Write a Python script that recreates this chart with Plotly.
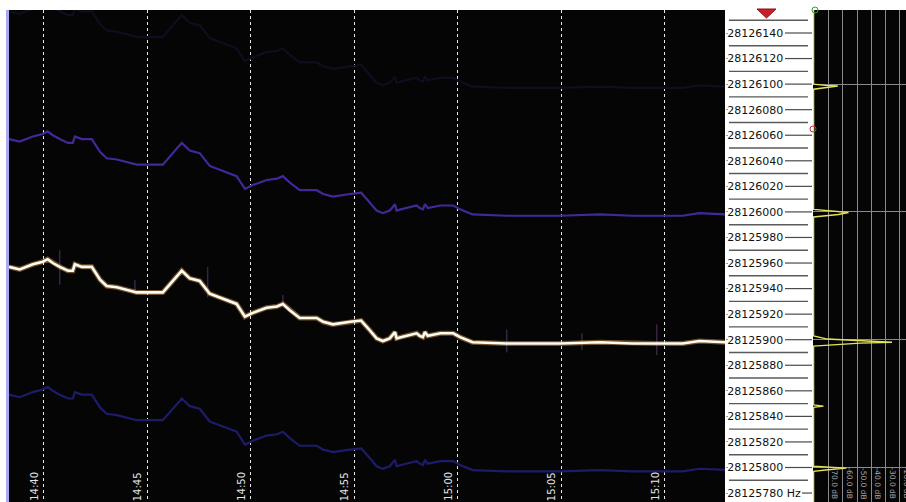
import plotly.graph_objects as go

W, H = 906, 502

# ---------------------------------------------------------------- data
# Carrier track of the received signal (time of day, frequency in Hz)
CARRIER_TIME = [
    "14:38:19", "14:38:50", "14:39:28", "14:39:57", "14:40:11", "14:40:26",
    "14:40:46", "14:41:10", "14:41:24", "14:41:30", "14:41:50", "14:42:19",
    "14:42:43", "14:43:02", "14:43:32", "14:44:01", "14:44:29", "14:45:00",
    "14:45:45", "14:46:40", "14:47:03", "14:47:32", "14:48:01", "14:48:30",
    "14:49:08", "14:49:19", "14:49:43", "14:50:06", "14:50:46", "14:51:16",
    "14:51:33", "14:51:53", "14:52:22", "14:53:11", "14:53:30", "14:53:58",
    "14:54:48", "14:55:20", "14:55:43", "14:56:05", "14:56:23", "14:56:43",
    "14:56:58", "14:57:03", "14:57:15", "14:58:01", "14:58:10", "14:58:19",
    "14:58:25", "14:58:33", "14:59:10", "14:59:47", "15:00:07", "15:00:26",
    "15:00:43", "15:02:22", "15:03:37", "15:04:56", "15:06:52", "15:08:27",
    "15:09:37", "15:10:52", "15:11:41", "15:13:00",
]
CARRIER_HZ = [
    28125957, 28125955, 28125959, 28125961, 28125963, 28125960,
    28125957, 28125954, 28125954, 28125959, 28125957, 28125957,
    28125947, 28125942, 28125941, 28125939, 28125937, 28125937,
    28125937, 28125954, 28125948, 28125946, 28125936, 28125933,
    28125929, 28125928, 28125918, 28125921, 28125925, 28125926,
    28125928, 28125923, 28125917, 28125917, 28125914, 28125912,
    28125914, 28125915, 28125908, 28125901, 28125899, 28125901,
    28125906, 28125901, 28125902, 28125905, 28125903, 28125902,
    28125906, 28125903, 28125905, 28125905, 28125902, 28125900,
    28125898, 28125897, 28125897, 28125897, 28125898, 28125897,
    28125897, 28125897, 28125899, 28125898,
]

# Modulation sidebands, offset from the carrier (Hz), with trace colours
SIDEBAND_OFFSET_HZ = [200, 100, -100]
SIDEBAND_COLOR = ["#0e0e20", "#43289a", "#1c1c6a"]

# Short broadband impulses crossing the carrier
IMPULSE_TIME = ["14:40:46", "14:44:24", "14:47:55", "14:51:33", "15:02:22", "15:06:00", "15:09:37"]
IMPULSE_TOP_HZ = [28125970, 28125947, 28125957, 28125935, 28125908, 28125905, 28125912]
IMPULSE_BOTTOM_HZ = [28125943, 28125936, 28125933, 28125926, 28125890, 28125892, 28125888]

# Averaged spectrum (frequency in Hz, level in dB)
SPECTRUM_HZ = [
    28126158, 28126100, 28126099, 28126098.5, 28126097.5, 28126096,
    28126002, 28126000.5, 28125999.5, 28125998, 28125996,
    28125903, 28125900.5, 28125898, 28125897.3, 28125895,
    28125849, 28125848, 28125847,
    28125801, 28125799.5, 28125798, 28125797, 28125773,
]
SPECTRUM_DB = [
    -80.4, -80.4, -72.0, -63.5, -70.0, -80.4,
    -80.4, -68.0, -56.0, -63.0, -80.4,
    -80.4, -70.7, -25.6, -47.8, -80.4,
    -80.4, -73.5, -80.4,
    -80.4, -57.5, -72.0, -80.4, -80.4,
]

# Axis ticks
TIME_TICKS = ["14:40", "14:45", "14:50", "14:55", "15:00", "15:05", "15:10"]
FREQ_TICKS = [28126140 - 20 * i for i in range(19)]
FREQ_LABELS = [str(f) for f in FREQ_TICKS[:-1]] + [f"{FREQ_TICKS[-1]} Hz"]
DB_TICKS = [-70, -60, -50, -40, -30, -20]
SPEC_GRID_HZ = [28126100, 28126000, 28125900, 28125800]

TIME_RANGE = ["14:38:19", "15:12:55"]
FREQ_RANGE = [28125773.0, 28126158.0]
DB_RANGE = [-80.8, -15.8]


def minutes(hms):
    parts = [int(p) for p in hms.split(":")]
    while len(parts) < 3:
        parts.append(0)
    return parts[0] * 60 + parts[1] + parts[2] / 60.0


def px(x):
    return x / W


def py(y):
    return 1 - y / H


t_carrier = [minutes(t) for t in CARRIER_TIME]

fig = go.Figure()

# sideband tracks
for off, col in zip(SIDEBAND_OFFSET_HZ, SIDEBAND_COLOR):
    fig.add_trace(go.Scatter(
        x=t_carrier, y=[f + off for f in CARRIER_HZ], mode="lines",
        line=dict(color=col, width=2.2), hoverinfo="skip", showlegend=False,
        xaxis="x", yaxis="y"))

# impulses
for t, top, bot in zip(IMPULSE_TIME, IMPULSE_TOP_HZ, IMPULSE_BOTTOM_HZ):
    m = minutes(t)
    fig.add_trace(go.Scatter(
        x=[m, m], y=[bot, top], mode="lines",
        line=dict(color="rgba(170,110,210,0.3)", width=1.5),
        hoverinfo="skip", showlegend=False, xaxis="x", yaxis="y"))

# carrier: warm halo under a white core
fig.add_trace(go.Scatter(
    x=t_carrier, y=CARRIER_HZ, mode="lines",
    line=dict(color="rgba(235,170,90,0.45)", width=5),
    hoverinfo="skip", showlegend=False, xaxis="x", yaxis="y"))
fig.add_trace(go.Scatter(
    x=t_carrier, y=CARRIER_HZ, mode="lines",
    line=dict(color="#fffbee", width=2.6),
    hoverinfo="skip", showlegend=False, xaxis="x", yaxis="y"))

# spectrum panel
fig.add_trace(go.Scatter(
    x=SPECTRUM_DB, y=SPECTRUM_HZ, mode="lines",
    line=dict(color="#e4e45a", width=1.4),
    hoverinfo="skip", showlegend=False, xaxis="x2", yaxis="y2"))

y_dom = [0, py(10)]

fig.update_layout(
    width=W, height=H,
    margin=dict(l=0, r=0, t=0, b=0),
    paper_bgcolor="white",
    plot_bgcolor="#050505",
    showlegend=False,
    xaxis=dict(
        domain=[px(9), px(725)],
        range=[minutes(TIME_RANGE[0]), minutes(TIME_RANGE[1])],
        tickvals=[minutes(t) for t in TIME_TICKS],
        showticklabels=False, ticks="",
        showgrid=True, gridcolor="#e8e8e8", gridwidth=1, griddash="3px,3px",
        zeroline=False, showline=False, fixedrange=True,
    ),
    yaxis=dict(
        domain=y_dom, anchor="x", side="right",
        range=FREQ_RANGE,
        tickvals=FREQ_TICKS, ticktext=FREQ_LABELS,
        ticks="outside", ticklen=2, tickcolor="#9a9a9a", tickwidth=1,
        ticklabelstandoff=-3,
        tickfont=dict(family="DejaVu Sans", size=11, color="#111111"),
        showgrid=False, zeroline=False, showline=False, fixedrange=True,
    ),
    xaxis2=dict(
        domain=[px(813), 1], anchor="y2",
        range=DB_RANGE, tickvals=DB_TICKS,
        showticklabels=False, ticks="",
        showgrid=True, gridcolor="#8a8a8a", gridwidth=1,
        zeroline=False, showline=False, fixedrange=True,
    ),
    yaxis2=dict(
        domain=y_dom, anchor="x2", matches="y",
        tickvals=SPEC_GRID_HZ, showticklabels=False, ticks="",
        showgrid=True, gridcolor="#8a8a8a", gridwidth=1,
        zeroline=False, showline=False, fixedrange=True,
    ),
)

shapes = []
# edge bar on the left of the waterfall
shapes.append(dict(type="rect", xref="paper", yref="paper",
                   x0=px(6), x1=px(9), y0=0, y1=py(10),
                   fillcolor="#a9a9ef", line=dict(width=0), layer="above"))
# leader lines from each frequency label to the spectrum panel
for f, lab in zip(FREQ_TICKS, FREQ_LABELS):
    x0 = 802 if lab.endswith("Hz") else 785
    shapes.append(dict(type="line", xref="paper", yref="y",
                       x0=px(x0), x1=px(812), y0=f, y1=f,
                       line=dict(color="#4a4a4a", width=1.2)))
    # intermediate 10 Hz divisions
    shapes.append(dict(type="line", xref="paper", yref="y",
                       x0=px(729), x1=px(808), y0=f + 10, y1=f + 10,
                       line=dict(color="#5a5a5a", width=1.4)))
# frequency marker at the top of the scale
shapes.append(dict(type="path", xref="paper", yref="paper",
                   path=f"M {px(757)} {py(9)} L {px(766.5)} {py(18)} L {px(776)} {py(9)} Z",
                   fillcolor="#c8202a", line=dict(color="#8a1018", width=1)))
shapes.append(dict(type="circle", xref="paper", yref="paper",
                   x0=px(812), x1=px(818), y0=py(13), y1=py(7),
                   line=dict(color="#3a9a3a", width=1)))
shapes.append(dict(type="circle", xref="paper", yref="paper",
                   x0=px(810), x1=px(816), y0=py(132), y1=py(126),
                   line=dict(color="#b83030", width=1)))
fig.update_layout(shapes=shapes)

annotations = []
for t in TIME_TICKS:
    annotations.append(dict(
        x=minutes(t), xref="x", y=0, yref="paper",
        text=t, textangle=-90, showarrow=False,
        xanchor="right", yanchor="bottom", xshift=-2, yshift=-1,
        font=dict(family="DejaVu Sans", size=10, color="#e4e4e4")))
for d in DB_TICKS:
    annotations.append(dict(
        x=d, xref="x2", y=SPEC_GRID_HZ[-1], yref="y2",
        text=f"{d:.1f} dB", textangle=90, showarrow=False,
        xanchor="left", yanchor="top", xshift=0, yshift=2,
        font=dict(family="DejaVu Sans", size=7.5, color="#a8a8a8")))
fig.update_layout(annotations=annotations)

fig.write_html("out.html")
